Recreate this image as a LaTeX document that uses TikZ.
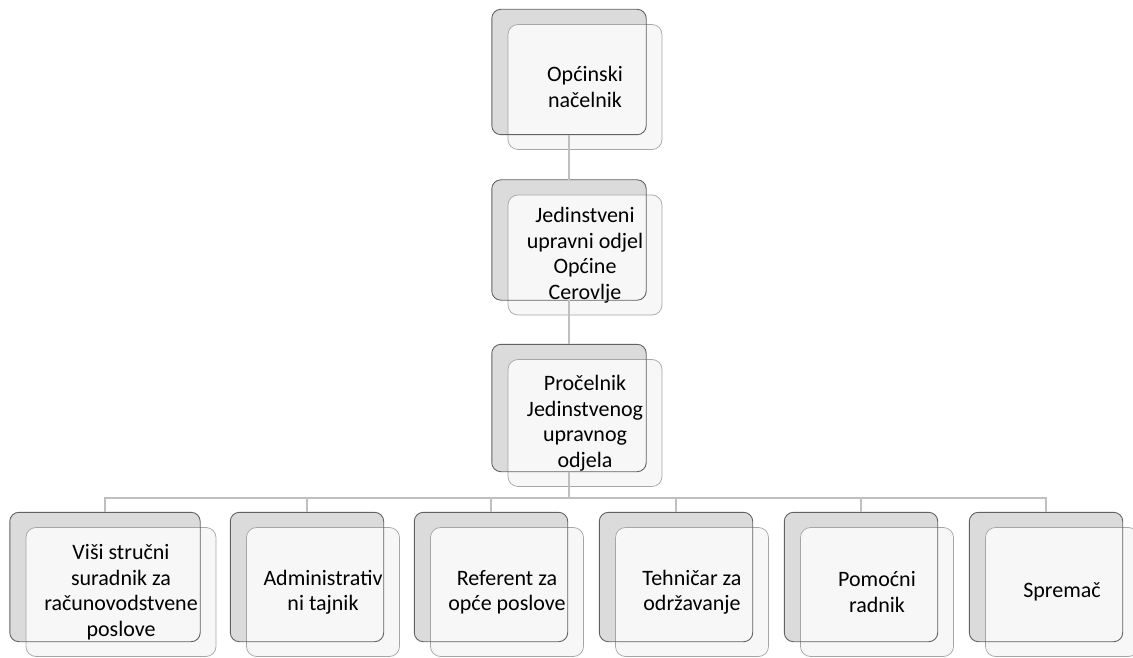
\documentclass[tikz,border=0pt]{standalone}
\usepackage{fontspec}
\setmainfont{Carlito}
\usepackage{xcolor}
\usetikzlibrary{calc}
\newcommand*{\OrgUnit}[6]{% name, x, y, width, height, text
    \node[backbox, minimum width=#4pt, minimum height=#5pt] (#1) at (#2,#3) {};
    \node[frontbox, minimum width=#4pt, minimum height=#5pt] (#1-txt) at ([shift={(16,15)}]#1.center) {#6};
    \draw[backedge] (#1.north west) rectangle (#1.south east);
}

\begin{document}
\begin{tikzpicture}[x=1pt, y=-1pt,
    backbox/.style={rectangle, rounded corners=9pt, fill=black!14, inner sep=0pt},
    frontbox/.style={rectangle, rounded corners=10pt, fill=white!97!black, draw=black!35,
        line width=0.7pt, inner sep=0pt, align=center, font=\fontsize{22}{25.5}\selectfont},
    backedge/.style={draw=black!62, line width=0.9pt, rounded corners=9pt},
    link/.style={draw=black!25, line width=1.6pt}]
    \useasboundingbox (0,0) rectangle (1133,658);
    % top of the chart
    \OrgUnit{nacelnik}{569}{72}{154}{125}{Općinski\\načelnik}
    \OrgUnit{odjel}{569}{240}{154}{120}{Jedinstveni\\upravni odjel\\Općine\\Cerovlje}
    \OrgUnit{procelnik}{569}{408}{154}{127}{Pročelnik\\Jedinstvenog\\upravnog\\odjela}
    % staff row
    \OrgUnit{visi}{105}{577}{190}{129}{Viši stručni\\suradnik za\\računovodstvene\\poslove}
    \OrgUnit{tajnik}{307}{577}{153}{129}{Administrativ\\ni tajnik}
    \OrgUnit{referent}{491}{577}{153}{129}{Referent za\\opće poslove}
    \OrgUnit{tehnicar}{676}{577}{153}{129}{Tehničar za\\održavanje}
    \OrgUnit{pomocni}{861}{577}{153}{129}{Pomoćni\\radnik}
    \OrgUnit{spremac}{1046}{577}{153}{129}{Spremač}
    % connectors
    \draw[link] (nacelnik.south) -- (odjel.north);
    \draw[link] (odjel.south) -- (procelnik.north);
    \coordinate (bus) at (0,498);
    \foreach \child in {visi,tajnik,referent,tehnicar,pomocni,spremac}
        \draw[link] (procelnik.south) -- (procelnik.south |- bus) -| (\child.north);
\end{tikzpicture}
\end{document}
